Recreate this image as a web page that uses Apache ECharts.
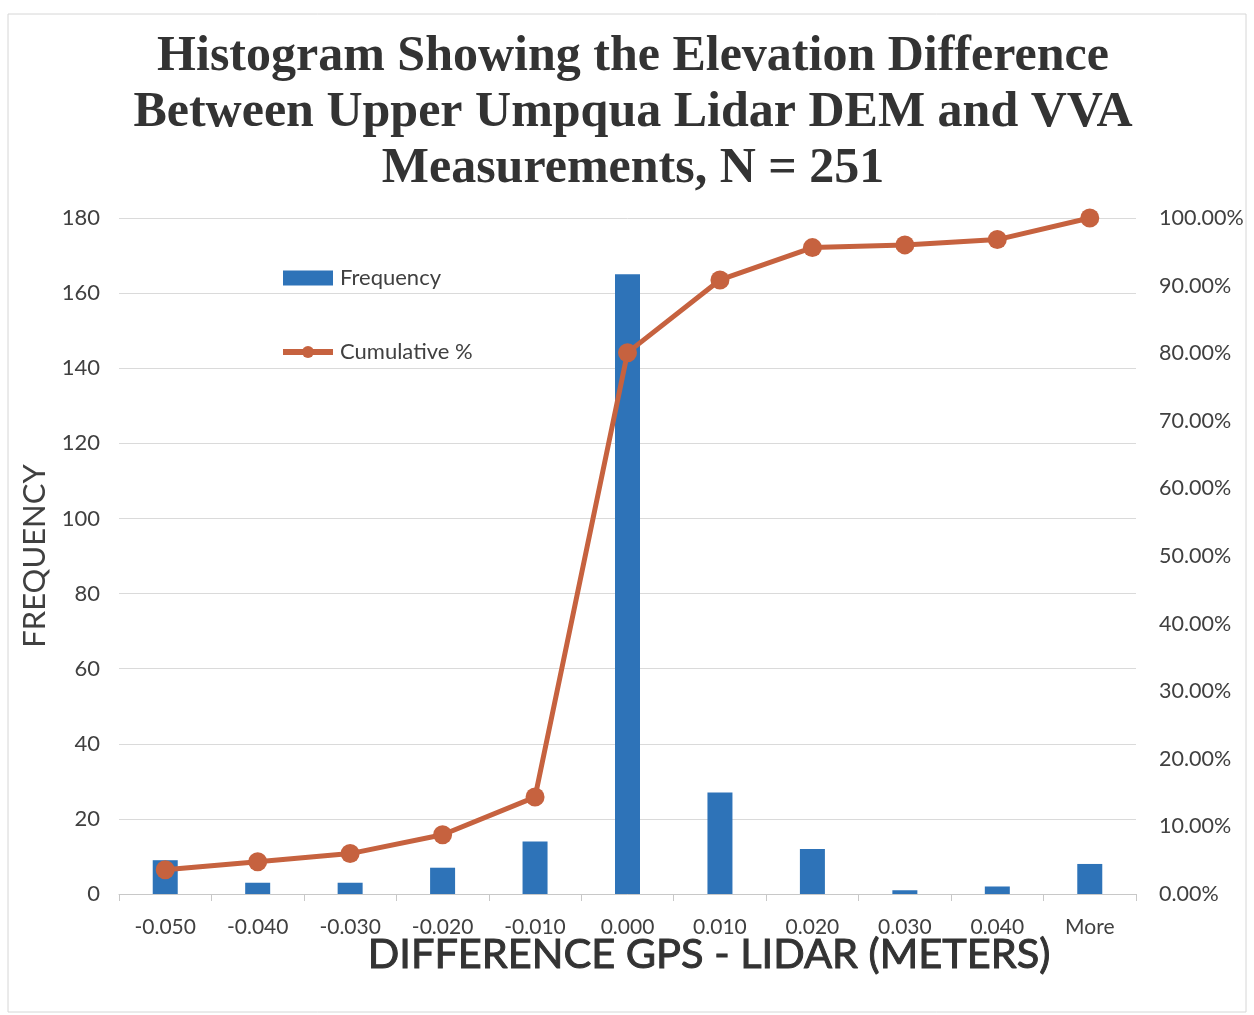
<!DOCTYPE html>
<html>
<head>
<meta charset="utf-8">
<script src="https://cdn.jsdelivr.net/npm/echarts@6/dist/echarts.min.js"></script>
<style>
html,body{margin:0;padding:0;background:#fff;}
#chart{width:1254px;height:1015px;}
</style>
</head>
<body>
<div id="chart"></div>
<script>
var categories = ['-0.050','-0.040','-0.030','-0.020','-0.010','0.000','0.010','0.020','0.030','0.040','More'];
var frequency = [9, 3, 3, 7, 14, 165, 27, 12, 1, 2, 8];
var cumulativePct = [3.59, 4.78, 5.98, 8.76, 14.34, 80.08, 90.84, 95.62, 96.02, 96.81, 100.00];
var leftTicks = {min: 0, max: 180, interval: 20};
var rightTicks = {min: 0, max: 100, interval: 10};

var chart = echarts.init(document.getElementById('chart'));
var txt = '#404040';
var option = {
  backgroundColor: '#fff',
  animation: false,
  title: {
    text: 'Histogram Showing the Elevation Difference\nBetween Upper Umpqua Lidar DEM and VVA\nMeasurements, N = 251',
    left: 628, textAlign: 'center', top: 24,
    textStyle: {fontFamily: 'Liberation Serif', fontWeight: 'bold', fontSize: 50, lineHeight: 56, color: '#333'}
  },
  legend: {
    orient: 'vertical', left: 280, top: 267, itemGap: 52, padding: 0,
    itemWidth: 50, itemHeight: 15,
    textStyle: {fontFamily: 'Lato', fontSize: 22, color: txt, padding: [0,0,0,2]},
    data: [{name: 'Frequency', icon: 'rect'},
           {name: 'Cumulative %', lineStyle: {width: 6, color: '#C6623F'}, itemStyle: {color: '#C6623F'}}]
  },
  grid: {left: 119, right: 118, top: 218, bottom: 121},
  xAxis: {
    type: 'category', data: categories,
    axisLine: {lineStyle: {color: '#c8c8c8', width: 1}},
    axisTick: {show: true, length: 7, lineStyle: {color: '#c8c8c8'}},
    axisLabel: {fontFamily: 'Lato', fontSize: 21, color: txt, margin: 23}
  },
  yAxis: [{
    type: 'value', min: leftTicks.min, max: leftTicks.max, interval: leftTicks.interval,
    name: 'FREQUENCY', nameLocation: 'middle', nameGap: 68, nameRotate: 90,
    nameTextStyle: {fontFamily: 'Lato', fontSize: 31, color: txt},
    axisLine: {show: false}, axisTick: {show: false},
    axisLabel: {fontFamily: 'Lato', fontSize: 22, color: txt, margin: 19},
    splitLine: {lineStyle: {color: '#dadada', width: 1}}
  }, {
    type: 'value', min: rightTicks.min, max: rightTicks.max, interval: rightTicks.interval,
    position: 'right',
    axisLine: {show: false}, axisTick: {show: false},
    axisLabel: {fontFamily: 'Lato', fontSize: 21.5, color: txt, margin: 23,
      formatter: function(v){ return v.toFixed(2) + '%'; }},
    splitLine: {show: false}
  }],
  series: [{
    name: 'Frequency', type: 'bar', data: frequency, barWidth: 25,
    itemStyle: {color: '#2E73B8'}
  }, {
    name: 'Cumulative %', type: 'line', yAxisIndex: 1, data: cumulativePct,
    symbol: 'circle', symbolSize: 19,
    lineStyle: {color: '#C6623F', width: 5},
    itemStyle: {color: '#C6623F'}
  }],
  graphic: [{
    type: 'text', x: 709, y: 955,
    style: {text: 'DIFFERENCE GPS - LIDAR (METERS)', align: 'center', verticalAlign: 'middle',
      font: '41.5px Lato', fill: '#333', stroke: '#333', lineWidth: 1}
  }, {
    type: 'rect', shape: {x: 8, y: 14, width: 1238, height: 998}, silent: true,
    style: {fill: 'none', stroke: '#d6d6d6', lineWidth: 1}
  }]
};
chart.setOption(option);
</script>
</body>
</html>
